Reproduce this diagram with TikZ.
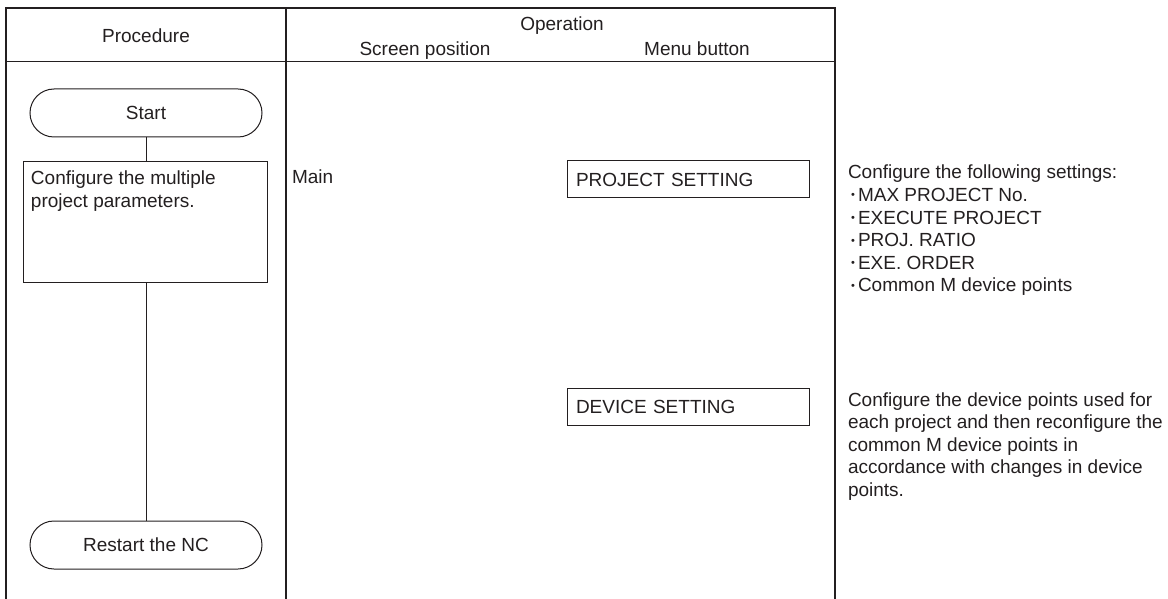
\documentclass[tikz,border=0pt]{standalone}
\usepackage{fontspec}
\setmainfont{Liberation Sans}
\usetikzlibrary{shapes.misc,calc}
\definecolor{ink}{HTML}{231F20}
\newcommand\dfont{\fontsize{19bp}{22.6bp}\selectfont}
\newcommand\bul{\makebox[10bp]{\raisebox{2.6bp}{\fontsize{11bp}{11bp}\selectfont\textbullet}}}
\begin{document}
\begin{tikzpicture}[x=1bp,y=-1bp,
  every node/.style={inner sep=0pt, outer sep=0pt, text=ink, font=\dfont},
  frame/.style={draw=ink, line width=2.2bp},
  thinline/.style={draw=ink, line width=1bp},
  term/.style={draw=ink, line width=1bp, rounded rectangle, minimum width=232bp, minimum height=48bp},
  procbox/.style={draw=ink, line width=1bp, rectangle, minimum width=243bp, minimum height=120bp},
  menubox/.style={draw=ink, line width=1bp, rectangle, text width=224bp, inner xsep=9bp, minimum height=37bp},
  txt/.style={anchor=base west},
  hdr/.style={anchor=base},
  flow/.style={draw=ink, line width=1bp}]
\useasboundingbox (0,0) rectangle (1168,599);
% table frame
\coordinate (fbl) at (6,599);
\coordinate (ftl) at (6,8);
\coordinate (ftr) at (835,8);
\coordinate (fbr) at (835,599);
\coordinate (dtop) at (286,8);
\coordinate (dbot) at (286,599);
\coordinate (hl) at (6,62);
\coordinate (hr) at (835,62);
\draw[frame] (fbl) -- (ftl) -- (ftr) -- (fbr);
\draw[frame] (dtop) -- (dbot);
\draw[thinline] (hl) -- (hr);
% headers
\node[hdr] (hproc) at (146,43) {Procedure};
\node[hdr] (hop) at (562,31) {Operation};
\node[hdr] (hscr) at (425,56) {Screen position};
\node[hdr] (hmenu) at (697,56) {Menu button};
% procedure flow
\node[term] (start) at (146,113) {Start};
\node[procbox] (cfg) at (145.5,222) {};
\node[txt] (cfgtxt) at ($(cfg.north west)+(7,23)$) {\parbox[t]{230bp}{\raggedright Configure the multiple\\project parameters.}};
\node[term] (restart) at (146,545) {Restart the NC};
\draw[flow] (start.south) -- (start.south |- cfg.north);
\draw[flow] (restart.north |- cfg.south) -- (restart.north);
% operation
\node[txt] (main) at (292,184) {Main};
\node[menubox] (proj) at (688,179.5) {PROJECT SETTING};
\node[menubox] (dev) at (688,407) {DEVICE SETTING};
% notes
\node[txt] (note1) at (848,179) {\parbox[t]{320bp}{\raggedright Configure the following settings:\\
\bul MAX PROJECT No.\\
\bul EXECUTE PROJECT\\
\bul PROJ. RATIO\\
\bul EXE. ORDER\\
\bul Common M device points}};
\node[txt] (note2) at (848,406) {\parbox[t]{320bp}{\raggedright Configure the device points used for\\
each project and then reconfigure the\\
common M device points in\\
accordance with changes in device\\
points.}};
\end{tikzpicture}
\end{document}
